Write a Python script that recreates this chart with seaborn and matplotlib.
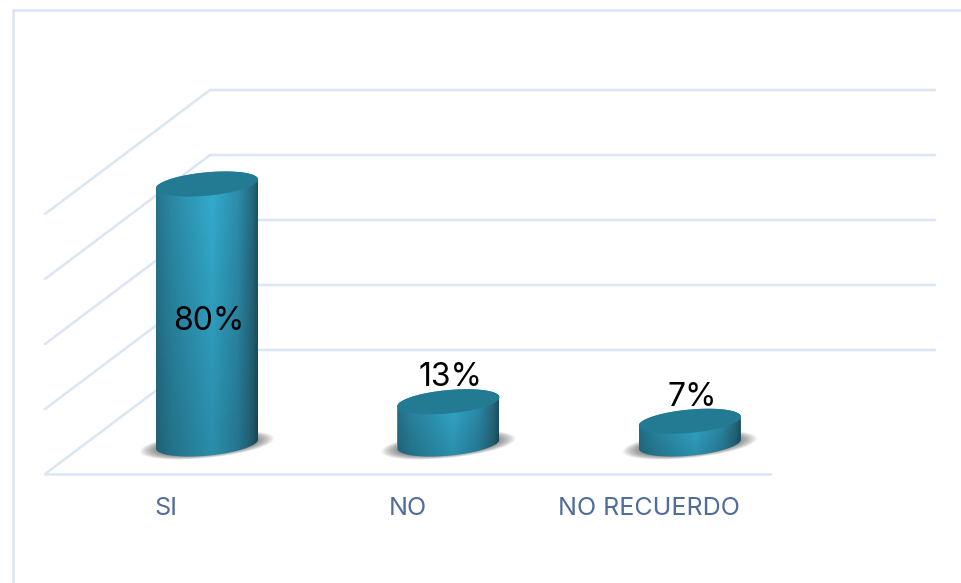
import numpy as np
import pandas as pd
import matplotlib
matplotlib.use("Agg")
import matplotlib.pyplot as plt
from matplotlib.colors import to_rgb
from matplotlib.lines import Line2D
from matplotlib.path import Path
from matplotlib.patches import Polygon
import seaborn as sns

categories = ["SI", "NO", "NO RECUERDO"]
values = [80, 13, 7]
value_labels = ["80%", "13%", "7%"]
grid_values = [0, 20, 40, 60, 80]

W, H = 961, 583
sns.set_theme(style="white")
plt.rcParams["font.family"] = ["Inter", "DejaVu Sans"]
GRID = "#dbe5f3"
TICK = "#4f6c9b"
PXY = 3.25          # pixels per percentage point
SPACE_F = 241.67    # category spacing, floor
SPACE_B = 241.4     # category spacing, bars
BAR_W = 102 / SPACE_B

fig = plt.figure(figsize=(W / 100, H / 100), dpi=100, facecolor="white")

# frame
for xs, ys in [((12.5, 12.5), (10, H)), ((12.5, W), (10, 10))]:
    fig.add_artist(Line2D([x / W for x in xs], [1 - y / H for y in ys],
                          color=GRID, lw=1.8))

# floor and back wall
floor = fig.add_axes([45 / W, 1 - 474 / H, 725 / W, 474 / H])
floor.patch.set_alpha(0)
floor.set_xlim(-0.5, 2.5)
floor.set_ylim(0, 474 / PXY)
depth_x, depth_y = 165 / SPACE_F, 124 / PXY
right_end = -0.5 + (935 - 45) / SPACE_F
for g in grid_values:
    floor.plot([-0.5, -0.5 + depth_x, right_end], [g, g + depth_y, g + depth_y],
               color=GRID, lw=1.8, clip_on=False, solid_joinstyle="miter")
floor.set_xticks(range(3))
floor.set_xticklabels(categories, fontsize=18, color=TICK)
floor.set_yticks([])
floor.tick_params(axis="x", length=0, pad=16.5)
for s in ["top", "left", "right"]:
    floor.spines[s].set_visible(False)
floor.spines["bottom"].set_color(GRID)
floor.spines["bottom"].set_linewidth(1.8)

# bars, seen from behind the floor's front edge
ax = fig.add_axes([(207 - SPACE_B / 2) / W, 1 - 444 / H, 3 * SPACE_B / W, 444 / H])
ax.patch.set_alpha(0)
df = pd.DataFrame({"cat": categories, "val": values})
sns.barplot(data=df, x="cat", y="val", ax=ax, width=BAR_W, color="#2a86a3",
            linewidth=0, saturation=1)
ax.set_xlim(-0.5, 2.5)
ax.set_ylim(0, 444 / PXY)
ax.set_axis_off()

A, B, SH = 51.0, 11.7, 4.5


def ring(xc, y, t, a=A, b=B, sh=SH):
    return np.column_stack([xc + a / SPACE_B * np.cos(t),
                            y + (sh * np.cos(t) + b * np.sin(t)) / PXY])


stops_u = [0, .15, .55, .8, .95, 1]
stops_c = np.array([to_rgb(c) for c in
                    ["#24748b", "#2b88a4", "#33aacd", "#2c8dab", "#25687d", "#1d5264"]])
u = np.linspace(0, 1, 256)
profile = np.column_stack([np.interp(u, stops_u, stops_c[:, k]) for k in range(3)])

for i, (bar, val, lab) in enumerate(zip(ax.patches, values, value_labels)):
    xc = bar.get_x() + bar.get_width() / 2
    top = bar.get_height()

    # soft shadow
    for sc in np.linspace(1.0, 0.72, 14):
        shadow = Polygon(ring(xc, -1 / PXY, np.linspace(0, 2 * np.pi, 120),
                              a=67 * sc, b=13 * sc, sh=6.5 * sc),
                         closed=True, fc="#303030", ec="none", alpha=0.055,
                         clip_on=False, zorder=1)
        ax.add_patch(shadow)

    # body
    body = np.vstack([ring(xc, 0, np.linspace(np.pi, 2 * np.pi, 80)),
                      ring(xc, top, np.linspace(0, np.pi, 80))])
    clip = Path(np.vstack([body, body[:1]]), closed=True)
    bar.set_clip_box(fig.bbox)
    bar.set_clip_path(clip, ax.transData)
    bar.set_zorder(2)

    v = np.linspace(0, 1, 128)[:, None, None]
    shade = 1 - 0.17 * np.abs(v - 0.08) / 0.92
    img = profile[None, :, :] * shade
    im = ax.imshow(img, extent=[xc - BAR_W / 2, xc + BAR_W / 2, -14 / PXY, top + 13 / PXY],
                   aspect="auto", origin="upper", zorder=3, interpolation="bilinear")
    im.set_clip_box(fig.bbox)
    im.set_clip_path(clip, ax.transData)

    # top face
    ax.add_patch(Polygon(ring(xc, top, np.linspace(0, 2 * np.pi, 160)), closed=True,
                         fc="#237a93", ec="none", zorder=4))

    # label
    y_lab = top / 2 - 2.2 / PXY - 1.6 if i == 0 else top + 7.4
    ax.text(xc + 2 / SPACE_B, y_lab, lab, ha="center", va="center", fontsize=23,
            color="black", zorder=5)

ax.set_xlim(-0.5, 2.5)
ax.set_ylim(0, 444 / PXY)

fig.savefig("out.png", dpi=100, facecolor="white")
